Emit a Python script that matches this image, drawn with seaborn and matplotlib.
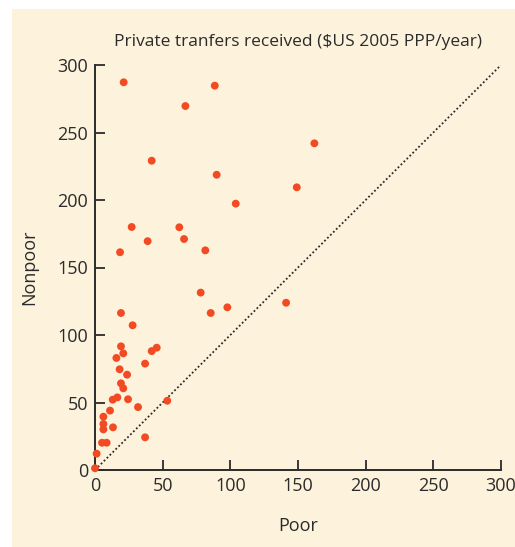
import matplotlib
matplotlib.use("Agg")
import matplotlib.pyplot as plt
from matplotlib.patches import Rectangle
import pandas as pd
import seaborn as sns

# Private transfers received per household group ($US 2005 PPP/year)
poor = [21.2, 88.5, 66.8, 41.9, 89.9, 104.0, 162.1, 149.1, 27.1, 62.3,
        65.8, 38.9, 18.5, 81.5, 78.1, 85.5, 97.8, 141.2, 19.2, 27.8,
        19.2, 45.6, 41.9, 20.9, 15.8, 37.0, 18.2, 23.7, 19.2, 20.9,
        13.1, 16.5, 24.4, 53.4, 31.8, 11.1, 6.2, 6.2, 6.2, 13.3,
        37.0, 5.2, 8.6, 1.2, 0.0]
nonpoor = [287.2, 284.7, 269.6, 229.1, 218.7, 197.3, 242.0, 209.4, 180.0, 179.8,
           171.1, 169.5, 161.3, 162.7, 131.4, 116.3, 120.5, 123.9, 116.3, 107.2,
           91.6, 90.6, 88.1, 86.4, 83.0, 78.8, 74.6, 70.6, 64.2, 60.5,
           52.1, 53.8, 52.4, 51.3, 46.6, 44.0, 39.5, 34.1, 30.1, 31.6,
           24.2, 20.2, 20.2, 12.1, 1.3]
ticks = [0, 50, 100, 150, 200, 250, 300]
diagonal = [0, 300]

df = pd.DataFrame({"Poor": poor, "Nonpoor": nonpoor})

cream = "#FDF2DC"
ink = "#2b2b2b"

sns.set_theme(style="ticks")
plt.rcParams["font.family"] = ["Open Sans", "DejaVu Sans"]

fig = plt.figure(figsize=(5.15, 5.47), dpi=100)
fig.patch.set_facecolor("white")
panel = Rectangle((12 / 515, 0), 1 - 12 / 515, 1 - 9 / 547,
                  transform=fig.transFigure, facecolor=cream,
                  edgecolor="none", zorder=-10)
fig.add_artist(panel)

ax = fig.add_axes([95 / 515, 1 - 470 / 547, 406 / 515, 405 / 547])
ax.set_zorder(1)
ax.set_facecolor(cream)

ax.plot(diagonal, diagonal, linestyle=(0, (1, 1.3)), color=ink, lw=1.3, zorder=1)
sns.scatterplot(data=df, x="Poor", y="Nonpoor", ax=ax, color="#F24A22",
                s=32, edgecolor="none", zorder=3, clip_on=False)

ax.set_xlim(0, 300)
ax.set_ylim(0, 300)
ax.set_xticks(ticks)
ax.set_yticks(ticks)
ax.tick_params(direction="in", length=7, width=1.3, color=ink,
               labelsize=13, labelcolor=ink, pad=5)
for side in ("top", "right"):
    ax.spines[side].set_visible(False)
for side in ("left", "bottom"):
    ax.spines[side].set_color(ink)
    ax.spines[side].set_linewidth(1.4)

ax.set_xlabel("Poor", fontsize=13, color=ink, labelpad=16)
ax.set_ylabel("Nonpoor", fontsize=13, color=ink, labelpad=14)
ax.set_title("Private tranfers received ($US 2005 PPP/year)", fontsize=12.5,
             color=ink, pad=14)

fig.savefig("out.png", dpi=100, facecolor=fig.get_facecolor())
